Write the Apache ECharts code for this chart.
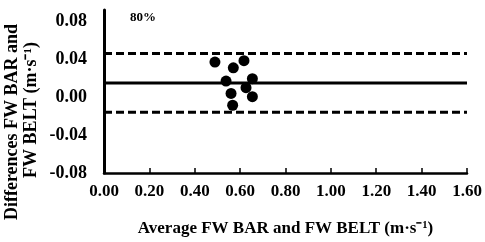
<!DOCTYPE html>
<html><head><meta charset="utf-8">
<script src="https://cdn.jsdelivr.net/npm/echarts@6/dist/echarts.min.js"></script>
<style>html,body{margin:0;padding:0;background:#fff}#c{width:485px;height:242px}</style>
</head><body><div id="c"></div>
<script>
var avgValues = [0.489, 0.570, 0.617, 0.538, 0.654, 0.626, 0.560, 0.654, 0.567];
var diffValues = [0.037, 0.031, 0.0385, 0.017, 0.0195, 0.010, 0.004, 0.0005, -0.0085];
var bias = 0.015;
var upperLoA = 0.046;
var lowerLoA = -0.016;
var xTicks = [0, 0.2, 0.4, 0.6, 0.8, 1.0, 1.2, 1.4, 1.6];
var yTicks = [-0.08, -0.04, 0, 0.04, 0.08];
var xRange = [0, 1.6];
var panelLabel = '80%';

var font = 'Liberation Serif';
var chart = echarts.init(document.getElementById('c'));
function hline(v, type) {
  return {type: 'line', data: [[xRange[0], v], [xRange[1], v]], symbol: 'none', silent: true,
    lineStyle: {color: '#000', width: 3, type: type === 'dashed' ? [8, 4] : 'solid'}, z: 1};
}
chart.setOption({
  animation: false,
  grid: {left: 104, right: 18, top: 10, bottom: 58},
  xAxis: {type: 'value', min: xRange[0], max: xRange[1], interval: 0.2,
    axisLine: {onZero: false, lineStyle: {color: '#000', width: 2.5}},
    axisTick: {inside: true, length: 5, lineStyle: {color: '#000', width: 1.5}},
    splitLine: {show: false},
    axisLabel: {color: '#000', fontFamily: font, fontWeight: 'bold', fontSize: 17, margin: 10,
      formatter: function (v) { return v.toFixed(2); }},
    name: 'Average FW BAR and FW BELT (m·s⁻¹)', nameLocation: 'middle', nameGap: 47,
    nameTextStyle: {color: '#000', fontFamily: font, fontWeight: 'bold', fontSize: 17}
  },
  yAxis: {type: 'value', min: yTicks[0], max: 0.092, interval: 0.04,
    axisLine: {onZero: false, lineStyle: {color: '#000', width: 3}},
    axisTick: {show: false},
    splitLine: {show: false},
    axisLabel: {color: '#000', fontFamily: font, fontWeight: 'bold', fontSize: 18, margin: 17, showMaxLabel: false,
      formatter: function (v) { return yTicks.indexOf(Math.round(v * 100) / 100) >= 0 ? v.toFixed(2) : ''; }}
  },
  graphic: [
    {type: 'text', left: 130, top: 11, style: {text: panelLabel, font: 'bold 13px "Liberation Serif"', fill: '#000'}},
    {type: 'text', x: 12.5, y: 122, rotation: Math.PI / 2, style: {text: 'Differences FW BAR and', font: 'bold 18px "Liberation Serif"', fill: '#000', align: 'center', verticalAlign: 'middle'}},
    {type: 'text', x: 31.5, y: 110, rotation: Math.PI / 2, style: {text: 'FW BELT (m·s⁻¹)', font: 'bold 18px "Liberation Serif"', fill: '#000', align: 'center', verticalAlign: 'middle'}}
  ],
  series: [
    hline(upperLoA, 'dashed'), hline(bias, 'solid'), hline(lowerLoA, 'dashed'),
    {type: 'scatter', data: avgValues.map(function (x, i) { return [x, diffValues[i]]; }),
      symbol: 'circle', symbolSize: 11, itemStyle: {color: '#000', opacity: 1}, z: 3}
  ]
});
</script></body></html>
